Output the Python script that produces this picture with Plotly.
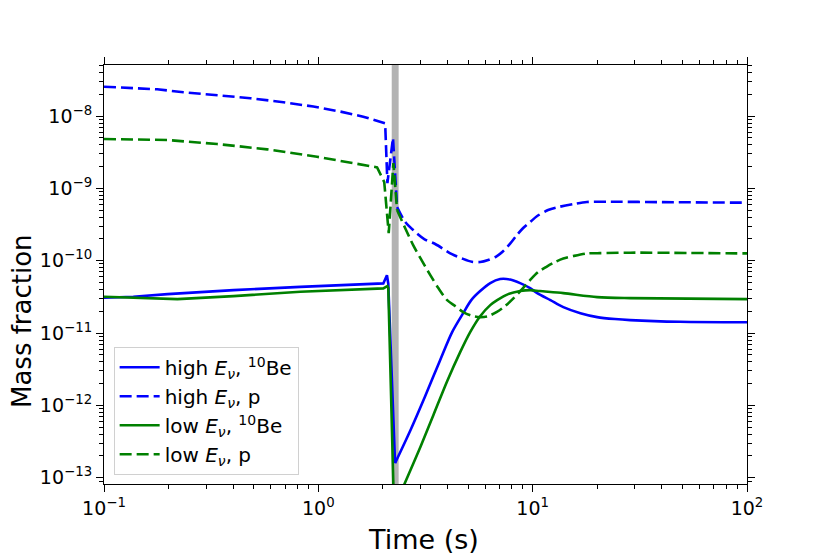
import plotly.graph_objects as go

# ---- data ----
t_high_be = [0.1, 0.137, 0.198, 0.402, 0.824, 2.01, 2.09, 2.12, 2.28, 2.69, 3.15, 3.70,
             4.21, 4.74, 5.17, 5.69, 6.34, 7.05, 7.85, 8.74, 9.73, 10.5, 12.1, 13.9, 16.7,
             20.0, 24.2, 28.5, 48.7, 100]
v_high_be = [3.07e-11, 3.17e-11, 3.45e-11, 3.92e-11, 4.35e-11, 4.85e-11, 6.3e-11, 4.8e-11,
             1.59e-13, 4.54e-13, 1.34e-12, 4.22e-12, 1.03e-11, 1.88e-11, 2.85e-11, 3.80e-11,
             4.90e-11, 5.57e-11, 5.48e-11, 4.90e-11, 4.18e-11, 3.56e-11, 2.85e-11, 2.28e-11,
             1.88e-11, 1.66e-11, 1.56e-11, 1.51e-11, 1.43e-11, 1.41e-11]

t_high_p = [0.1, 0.177, 0.235, 0.337, 0.482, 0.687, 0.948, 1.27, 1.62, 2.05, 2.10, 2.23,
            2.33, 2.545, 2.77, 3.12, 3.51, 4.20, 4.69, 5.2, 5.69, 6.2, 6.76, 7.3, 7.85,
            8.42, 9.03, 9.73, 10.5, 11.8, 13.4, 15.5, 17.9, 22.2, 40, 100]
v_high_p = [2.54e-8, 2.34e-8, 2.13e-8, 1.95e-8, 1.76e-8, 1.55e-8, 1.35e-8, 1.15e-8, 9.8e-9,
            7.9e-9, 1.18e-9, 4.97e-9, 5.51e-10, 3.42e-10, 2.65e-10, 1.99e-10, 1.70e-10,
            1.23e-10, 1.07e-10, 9.66e-11, 9.57e-11, 1.02e-10, 1.14e-10, 1.36e-10, 1.72e-10,
            2.24e-10, 2.83e-10, 3.42e-10, 4.14e-10, 5.01e-10, 5.57e-10, 6.07e-10, 6.47e-10,
            6.53e-10, 6.45e-10, 6.33e-10]

t_low_be = [0.1, 0.137, 0.22, 0.402, 0.824, 2.01, 2.10, 2.12, 2.23, 2.28, 2.40, 2.54, 2.99,
            3.44, 3.99, 4.59, 5.11, 5.69, 6.34, 6.83, 7.69, 8.74, 9.73, 10.8, 13.9, 20.0,
            28.5, 100]
v_low_be = [3.17e-11, 3.07e-11, 2.94e-11, 3.24e-11, 3.72e-11, 4.14e-11, 4.46e-11, 4.2e-11,
            8.3e-14, 1e-14, 5.7e-14, 8.6e-14, 2.64e-13, 7.31e-13, 2.16e-12, 5.45e-12,
            1.03e-11, 1.71e-11, 2.43e-11, 2.85e-11, 3.45e-11, 3.80e-11, 3.92e-11, 3.80e-11,
            3.56e-11, 3.14e-11, 3.04e-11, 2.94e-11]

t_low_p = [0.1, 0.197, 0.337, 0.577, 0.986, 1.41, 1.88, 2.03, 2.13, 2.24, 2.33, 2.54, 2.77,
           2.99, 3.33, 3.63, 3.99, 4.35, 4.74, 5.17, 5.69, 6.2, 6.81, 7.44, 8.13, 8.84,
           9.73, 10.6, 11.6, 12.7, 13.9, 15.5, 17.9, 20.6, 28.5, 100]
v_low_p = [4.81e-9, 4.66e-9, 4.10e-9, 3.46e-9, 2.73e-9, 2.26e-9, 1.95e-9, 1.22e-9, 2.41e-10,
           2.24e-9, 5.01e-10, 2.83e-10, 1.64e-10, 1.09e-10, 6.32e-11, 4.18e-11, 2.85e-11,
           2.36e-11, 1.95e-11, 1.74e-11, 1.66e-11, 1.71e-11, 1.96e-11, 2.36e-11, 3.01e-11,
           3.92e-11, 5.40e-11, 6.95e-11, 8.24e-11, 9.57e-11, 1.07e-10, 1.16e-10, 1.26e-10,
           1.27e-10, 1.29e-10, 1.26e-10]

band_t = [2.20, 2.37]

series_names = ["high <i>E<sub>ν</sub></i>, <sup>10</sup>Be",
                "high <i>E<sub>ν</sub></i>, p",
                "low <i>E<sub>ν</sub></i>, <sup>10</sup>Be",
                "low <i>E<sub>ν</sub></i>, p"]

x_title = "Time (s)"
y_title = "Mass fraction"

x_tickvals = [0.1, 1, 10, 100]
x_ticktext = ["10<sup>−1</sup>", "10<sup>0</sup>", "10<sup>1</sup>", "10<sup>2</sup>"]
y_tickvals = [1e-13, 1e-12, 1e-11, 1e-10, 1e-9, 1e-8]
y_ticktext = ["10<sup>−13</sup>", "10<sup>−12</sup>", "10<sup>−11</sup>",
              "10<sup>−10</sup>", "10<sup>−9</sup>", "10<sup>−8</sup>"]

x_minor = [k * 10.0 ** e for e in range(-1, 2) for k in range(2, 10)]
y_minor = [k * 10.0 ** e for e in range(-14, -7) for k in range(2, 10)]

BLUE = "#0000ff"
GREEN = "#008000"
LW = 2.6
DASH = "12px,5px"
FONT = "DejaVu Sans"
SMOOTH_AFTER = 2.45   # after the shaded band the curves are smooth

fig = go.Figure()
fig.add_vrect(x0=band_t[0], x1=band_t[1], fillcolor="#b3b3b3", opacity=1,
              line_width=0, layer="below")


def add_series(t, v, name, color, dash):
    k = next(i for i, tt in enumerate(t) if tt > SMOOTH_AFTER) - 1
    line = dict(color=color, width=LW, dash=dash)
    fig.add_trace(go.Scatter(x=t[:k + 1], y=v[:k + 1], mode="lines", name=name,
                             legendgroup=name, line=line))
    fig.add_trace(go.Scatter(x=t[k:], y=v[k:], mode="lines", name=name,
                             legendgroup=name, showlegend=False,
                             line=dict(line, shape="spline", smoothing=0.8)))


add_series(t_high_be, v_high_be, series_names[0], BLUE, "solid")
add_series(t_high_p, v_high_p, series_names[1], BLUE, DASH)
add_series(t_low_be, v_low_be, series_names[2], GREEN, "solid")
add_series(t_low_p, v_low_p, series_names[3], GREEN, DASH)

axis_common = dict(
    type="log", showgrid=False, zeroline=False, showline=True, linecolor="black",
    linewidth=1.2, mirror="ticks", ticks="outside", ticklen=7, tickwidth=1.2,
    tickcolor="black", tickfont=dict(size=19, color="black", family=FONT),
)

fig.update_xaxes(
    **axis_common, range=[-1, 2], tickmode="array", tickvals=x_tickvals,
    ticktext=x_ticktext,
    minor=dict(tickmode="array", tickvals=x_minor, ticks="outside", ticklen=4,
               tickwidth=1, tickcolor="black", showgrid=False),
)
fig.update_yaxes(
    **axis_common, range=[-13.087, -7.295], tickmode="array", tickvals=y_tickvals,
    ticktext=y_ticktext,
    minor=dict(tickmode="array", tickvals=y_minor, ticks="outside", ticklen=4,
               tickwidth=1, tickcolor="black", showgrid=False),
)

# axis titles
fig.add_annotation(text=x_title, xref="paper", yref="paper", x=0.4965, y=-0.1325,
                   xanchor="center", yanchor="middle", showarrow=False,
                   font=dict(size=27, color="black", family=FONT))
fig.add_annotation(text=y_title, xref="paper", yref="paper", x=-0.1275, y=0.389,
                   xanchor="center", yanchor="middle", textangle=-90, showarrow=False,
                   font=dict(size=26, color="black", family=FONT))

# the page body has an 8px margin, so the figure is sized/offset to compensate
fig.update_layout(
    width=822, height=546,
    margin=dict(l=95.5, r=83, t=57, b=70, autoexpand=False),
    paper_bgcolor="white", plot_bgcolor="white",
    font=dict(family=FONT, color="black", size=18),
    legend=dict(x=0.015, y=0.022, xanchor="left", yanchor="bottom",
                bgcolor="rgba(255,255,255,0.8)", bordercolor="#d0d0d0", borderwidth=1,
                font=dict(size=20, family=FONT), itemwidth=40, tracegroupgap=0),
    showlegend=True,
)

fig.write_html("out.html")
